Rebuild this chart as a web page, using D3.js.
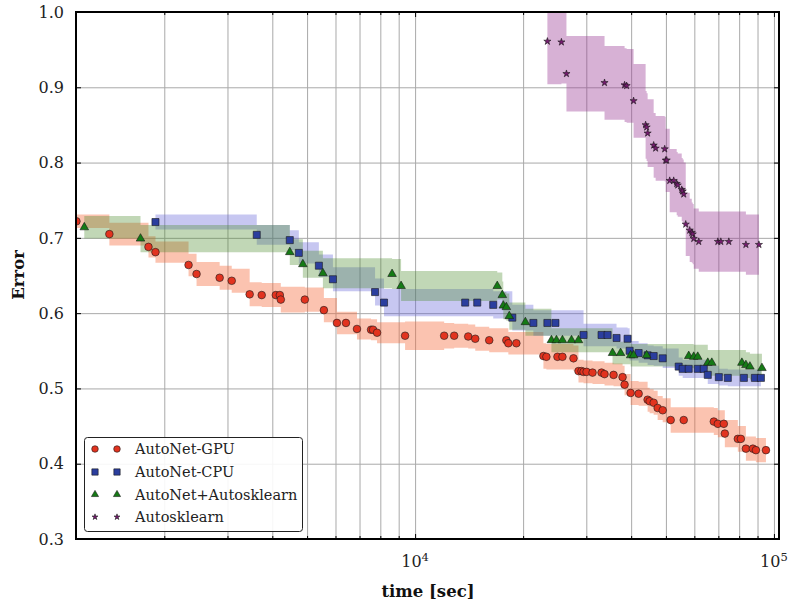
<!DOCTYPE html>
<html><head><meta charset="utf-8">
<script src="https://cdn.jsdelivr.net/npm/d3@7"></script>
<style>body{margin:0;background:#fff}svg{display:block}</style>
</head><body><svg id="c" width="788" height="605"></svg>
<script>
// ---- data ----
const seriesNames = ["AutoNet-GPU","AutoNet-CPU","AutoNet+Autosklearn","Autosklearn"];

const gpuTime = [1138,1406,1807,1890,2337,2460,2853,3083,3459,3737,4091,4198,4224,4928,5569,6056,6417,6887,7538,7636,7834,9377,12050,12850,14060,14710,16090,17960,18190,19150,22780,23220,24930,25740,27630,28530,29090,29470,30050,31220,33080,33720,35730,37860,38350,39870,41970,44460,45040,46220,47420,48980,51550,56050,67990,69770,72500,72970,79320,80870,83530,87350,89070,95000];
const gpuErr = [0.722,0.705,0.688,0.681,0.664,0.652,0.647,0.643,0.625,0.624,0.624,0.624,0.618,0.618,0.604,0.587,0.587,0.579,0.578,0.578,0.574,0.570,0.570,0.570,0.569,0.566,0.564,0.564,0.560,0.560,0.543,0.542,0.542,0.542,0.540,0.523,0.523,0.522,0.522,0.521,0.521,0.519,0.518,0.515,0.505,0.494,0.493,0.485,0.483,0.481,0.474,0.471,0.458,0.458,0.456,0.453,0.453,0.440,0.433,0.433,0.420,0.420,0.418,0.418];
const gpuStd = [0.009,0.015,0.014,0.014,0.015,0.016,0.016,0.016,
 0.016,0.016,0.016,0.016,0.017,0.016,0.016,0.015,
 0.015,0.014,0.014,0.014,0.014,0.019,0.017,0.016,
 0.016,0.016,0.016,0.016,0.015,0.015,0.017,0.017,
 0.017,0.017,0.017,0.015,0.015,0.015,0.015,0.015,
 0.015,0.015,0.015,0.015,0.014,0.016,0.016,0.016,
 0.016,0.016,0.016,0.016,0.017,0.017,0.018,0.018,
 0.018,0.018,0.017,0.017,0.016,0.016,0.016,0.016];

const cpuTime = [1890,3620,4475,4742,5393,5902,7734,8192,13790,14900,16510,18660,21360,23370,24610,29470,33080,34390,36420,39100,39610,41970,44460,46220,48980,54270,55690,57880,61330,63750,65410,70220,74380,82460,88500,91990];
const cpuErr = [0.721,0.704,0.697,0.680,0.663,0.645,0.628,0.614,0.614,0.614,0.611,0.594,0.587,0.587,0.587,0.571,0.571,0.571,0.567,0.566,0.550,0.547,0.544,0.543,0.540,0.529,0.526,0.526,0.526,0.526,0.518,0.515,0.514,0.514,0.514,0.514];
const cpuStd = [0.010,0.013,0.013,0.014,0.015,0.016,0.018,0.018,
 0.018,0.018,0.018,0.017,0.017,0.017,0.017,0.015,
 0.015,0.015,0.014,0.014,0.013,0.013,0.013,0.013,
 0.013,0.012,0.012,0.012,0.012,0.012,0.012,0.011,
 0.011,0.011,0.011,0.011];

const askTime = [1197,1717,4475,4866,5534,8626,9140,16940,17500,17610,17960,18300,20290,23980,24770,25740,27280,28530,35500,37380,39870,40630,44180,57880,59770,61330,65410,67120,81410,83530,85700,92580];
const askErr = [0.714,0.699,0.681,0.665,0.653,0.652,0.636,0.636,0.624,0.610,0.608,0.596,0.588,0.564,0.564,0.564,0.564,0.564,0.547,0.547,0.544,0.544,0.544,0.543,0.542,0.542,0.534,0.534,0.534,0.531,0.529,0.527];
const askStd = [0.015,0.018,0.017,0.018,0.020,0.020,0.020,0.018,
 0.018,0.018,0.018,0.018,0.018,0.016,0.016,0.016,
 0.016,0.016,0.015,0.015,0.015,0.015,0.015,0.016,
 0.016,0.016,0.017,0.017,0.017,0.017,0.017,0.017];

const skTime = [23370,25570,26410,33720,38350,38850,40630,43890,44180,44460,46220,46810,49610,49930,50250,51230,52560,53580,53930,55340,55690,56050,56780,58250,59020,59390,59770,61730,69770,71120,74860,83530,90810];
const skErr = [0.961,0.960,0.918,0.906,0.903,0.902,0.882,0.850,0.847,0.839,0.823,0.819,0.818,0.803,0.803,0.776,0.776,0.772,0.770,0.764,0.762,0.758,0.718,0.710,0.707,0.705,0.699,0.695,0.695,0.695,0.695,0.691,0.691];
const skStd = [0.057,0.055,0.050,0.049,0.049,0.049,0.049,0.045,
 0.045,0.045,0.043,0.043,0.043,0.042,0.042,0.042,
 0.042,0.042,0.042,0.042,0.042,0.042,0.042,0.042,
 0.040,0.040,0.040,0.040,0.040,0.040,0.040,0.040,0.040];

const yTicks = [0.3,0.4,0.5,0.6,0.7,0.8,0.9,1.0];
const xMajor = [1e4,1e5];
const xMajorLabels = [["10","4"],["10","5"]];
const xMinor = [2000,3000,4000,5000,6000,7000,8000,9000,20000,30000,40000,50000,60000,70000,80000,90000];

// ---- layout / style ----
const m = {l:76, t:12, r:779, b:539};
const FONT = "'DejaVu Serif', serif";
const styles = [
  {band:"#f4683a", bandOp:0.40, fill:"#e2331f", sym:d3.symbolCircle, size:46, lsize:34},
  {band:"#5c5cd6", bandOp:0.34, fill:"#2b3e9e", sym:d3.symbolSquare, size:50, lsize:40},
  {band:"#4a8a28", bandOp:0.34, fill:"#157a15", sym:d3.symbolTriangle, size:32, lsize:22},
  {band:"#9a3d96", bandOp:0.40, fill:"#761b70", sym:d3.symbolStar, size:16, lsize:11}
];
const series = [
  {t:gpuTime, e:gpuErr, s:gpuStd},
  {t:cpuTime, e:cpuErr, s:cpuStd},
  {t:askTime, e:askErr, s:askStd},
  {t:skTime, e:skErr, s:skStd}
];

const svg = d3.select("#c");
const x = d3.scaleLog().domain([1135, 103300]).range([m.l, m.r]);
const y = d3.scaleLinear().domain([0.3, 1.0]).range([m.b, m.t]);

svg.append("defs").append("clipPath").attr("id","clip")
  .append("rect").attr("x",m.l).attr("y",m.t).attr("width",m.r-m.l).attr("height",m.b-m.t);

// grid
const gx = svg.append("g").attr("transform",`translate(0,${m.b})`)
  .call(d3.axisBottom(x).tickValues(xMinor.concat(xMajor)).tickSize(-(m.b-m.t)).tickFormat(""));
gx.select(".domain").remove();
gx.selectAll("line").attr("stroke","#a9a9a9").attr("stroke-width",1);
const gy = svg.append("g").attr("transform",`translate(${m.l},0)`)
  .call(d3.axisLeft(y).tickValues(yTicks).tickSize(-(m.r-m.l)).tickFormat(""));
gy.select(".domain").remove();
gy.selectAll("line").attr("stroke","#a9a9a9").attr("stroke-width",1);

// bands
const plot = svg.append("g").attr("clip-path","url(#clip)");
series.forEach((sr,i)=>{
  const pts = sr.t.map((t,k)=>({t, e:sr.e[k], s:sr.s[k]}));
  const area = d3.area().curve(d3.curveStepAfter)
    .x(d=>x(d.t)).y0(d=>y(d.e - d.s)).y1(d=>y(d.e + d.s));
  plot.append("path").datum(pts).attr("d",area)
    .attr("fill",styles[i].band).attr("fill-opacity",styles[i].bandOp).attr("stroke","none");
});
// markers
series.forEach((sr,i)=>{
  const st = styles[i];
  const sym = d3.symbol().type(st.sym).size(st.size);
  plot.append("g").selectAll("path").data(sr.t.map((t,k)=>({t,e:sr.e[k]}))).join("path")
    .attr("d",sym).attr("transform",d=>`translate(${x(d.t)},${y(d.e)})`)
    .attr("fill",st.fill).attr("stroke","#1a1a1a").attr("stroke-width",0.6);
});

// ticks (inward) on all four sides
const tickStyle = g => { g.select(".domain").remove(); g.selectAll("line").attr("stroke","#000").attr("stroke-width",1); };
svg.append("g").attr("transform",`translate(0,${m.b})`).call(d3.axisBottom(x).tickValues(xMajor).tickSize(-5).tickFormat("")).call(tickStyle);
svg.append("g").attr("transform",`translate(0,${m.b})`).call(d3.axisBottom(x).tickValues(xMinor).tickSize(-3).tickFormat("")).call(tickStyle);
svg.append("g").attr("transform",`translate(0,${m.t})`).call(d3.axisTop(x).tickValues(xMajor).tickSize(-5).tickFormat("")).call(tickStyle);
svg.append("g").attr("transform",`translate(0,${m.t})`).call(d3.axisTop(x).tickValues(xMinor).tickSize(-3).tickFormat("")).call(tickStyle);
svg.append("g").attr("transform",`translate(${m.l},0)`).call(d3.axisLeft(y).tickValues(yTicks).tickSize(-5).tickFormat("")).call(tickStyle);
svg.append("g").attr("transform",`translate(${m.r},0)`).call(d3.axisRight(y).tickValues(yTicks).tickSize(-5).tickFormat("")).call(tickStyle);

// frame
svg.append("rect").attr("x",m.l).attr("y",m.t).attr("width",m.r-m.l).attr("height",m.b-m.t)
  .attr("fill","none").attr("stroke","#000").attr("stroke-width",2);

// tick labels
svg.append("g").selectAll("text").data(yTicks).join("text")
  .attr("x",64).attr("y",d=>y(d)).attr("dy","0.36em").attr("text-anchor","end")
  .attr("font-family",FONT).attr("font-size",16).attr("fill","#222")
  .text(d=>d3.format(".1f")(d));
const xl = svg.append("g").selectAll("text").data(xMajor).join("text")
  .attr("x",d=>x(d)).attr("y",567).attr("text-anchor","middle")
  .attr("font-family",FONT).attr("font-size",16).attr("fill","#222");
xl.append("tspan").text((d,i)=>xMajorLabels[i][0]);
xl.append("tspan").attr("dy",-6).attr("font-size",11.5).text((d,i)=>xMajorLabels[i][1]);

// axis titles
svg.append("text").attr("x",428).attr("y",597).attr("text-anchor","middle")
  .attr("font-family",FONT).attr("font-weight","bold").attr("font-size",16.5).attr("fill","#111").text("time [sec]");
svg.append("text").attr("transform","translate(24,275) rotate(-90)").attr("text-anchor","middle")
  .attr("font-family",FONT).attr("font-weight","bold").attr("font-size",16.5).attr("fill","#111").text("Error");

// legend
const lg = svg.append("g");
lg.append("rect").attr("x",84.5).attr("y",437.5).attr("width",218).attr("height",94).attr("rx",3)
  .attr("fill","#fff").attr("fill-opacity",0.9).attr("stroke","#222").attr("stroke-width",1);
const rowsY = [449,472,494.5,517];
seriesNames.forEach((name,i)=>{
  const st = styles[i];
  const sym = d3.symbol().type(st.sym).size(st.lsize);
  [95,117].forEach(px=>{
    lg.append("path").attr("d",sym).attr("transform",`translate(${px},${rowsY[i]})`)
      .attr("fill",st.fill).attr("stroke","#1a1a1a").attr("stroke-width",0.6);
  });
  lg.append("text").attr("x",135).attr("y",rowsY[i]).attr("dy","0.36em")
    .attr("font-family",FONT).attr("font-size",14.5).attr("fill","#222").text(name);
});
</script></body></html>
